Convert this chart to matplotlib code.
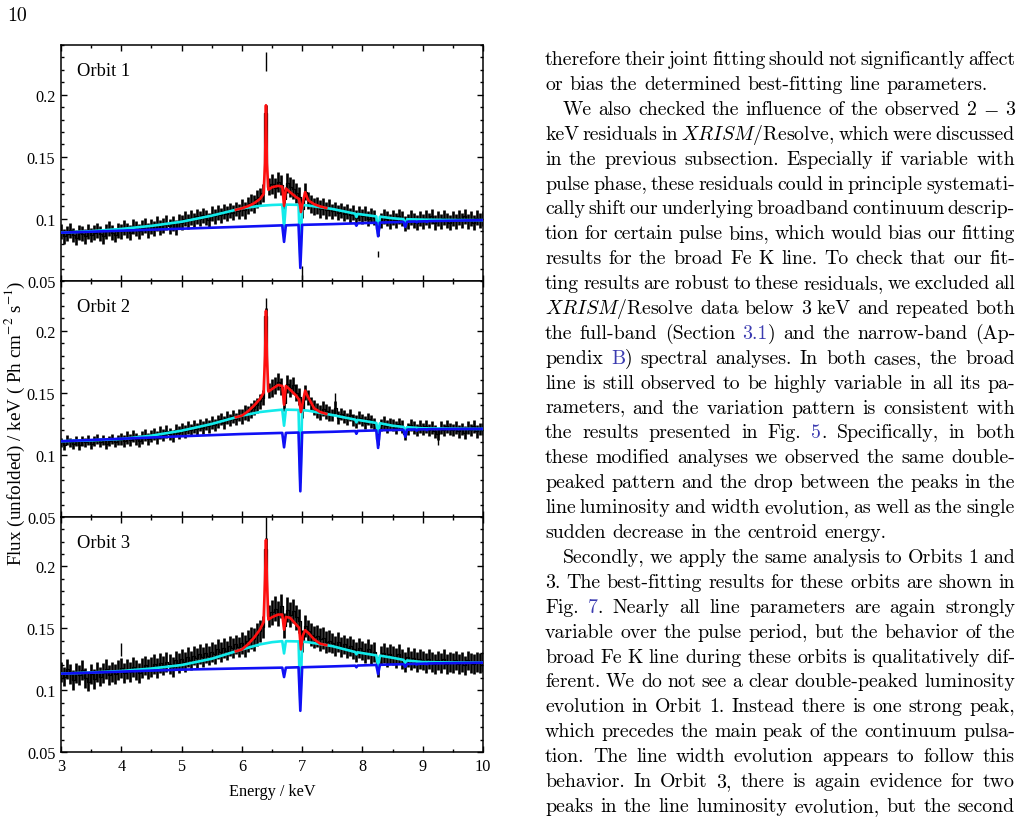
import re
import numpy as np
import matplotlib
matplotlib.use('Agg')
import matplotlib.pyplot as plt
from matplotlib.ticker import MultipleLocator, FixedLocator, FuncFormatter

# binned spectra, 0.05 keV bins from 3 to 10 keV
energy = np.round(np.arange(3.0, 10.001, 0.05), 2)

flux1 = [0.090, 0.086, 0.088, 0.091, 0.087, 0.085, 0.089, 0.088, 0.086, 0.090,
         0.087, 0.089, 0.091, 0.088, 0.086, 0.090, 0.092, 0.089, 0.087, 0.091,
         0.090, 0.093, 0.091, 0.089, 0.094, 0.092, 0.090, 0.093, 0.095, 0.091,
         0.094, 0.092, 0.096, 0.093, 0.095, 0.097, 0.094, 0.096, 0.093, 0.098,
         0.097, 0.100, 0.098, 0.101, 0.099, 0.102, 0.100, 0.103, 0.101, 0.099,
         0.104, 0.102, 0.105, 0.103, 0.106, 0.104, 0.107, 0.105, 0.108, 0.106,
         0.109, 0.107, 0.111, 0.113, 0.112, 0.116, 0.118, 0.121, 0.185, 0.126,
         0.128, 0.125, 0.130, 0.127, 0.116, 0.129, 0.126, 0.124, 0.121, 0.118,
         0.108, 0.122, 0.115, 0.112, 0.110, 0.111, 0.108, 0.110, 0.107, 0.109,
         0.106, 0.108, 0.105, 0.107, 0.104, 0.106, 0.103, 0.105, 0.101, 0.104,
         0.102, 0.104, 0.100, 0.103, 0.101, 0.092, 0.099, 0.102, 0.100, 0.098,
         0.101, 0.099, 0.102, 0.100, 0.096, 0.098, 0.101, 0.099, 0.097, 0.100,
         0.098, 0.101, 0.099, 0.102, 0.097, 0.100, 0.098, 0.101, 0.099, 0.097,
         0.100, 0.098, 0.101, 0.099, 0.102, 0.098, 0.100, 0.097, 0.101, 0.099,
         0.100]
flux2 = [0.110, 0.108, 0.112, 0.110, 0.109, 0.111, 0.108, 0.111, 0.110, 0.112,
         0.109, 0.111, 0.113, 0.110, 0.112, 0.109, 0.111, 0.113, 0.110, 0.112,
         0.113, 0.111, 0.114, 0.112, 0.115, 0.113, 0.111, 0.114, 0.116, 0.113,
         0.115, 0.117, 0.114, 0.118, 0.116, 0.119, 0.117, 0.115, 0.120, 0.118,
         0.121, 0.119, 0.122, 0.120, 0.123, 0.121, 0.124, 0.122, 0.125, 0.123,
         0.126, 0.124, 0.127, 0.129, 0.126, 0.130, 0.128, 0.131, 0.129, 0.132,
         0.131, 0.134, 0.133, 0.136, 0.138, 0.140, 0.143, 0.146, 0.212, 0.152,
         0.154, 0.156, 0.159, 0.155, 0.142, 0.157, 0.154, 0.156, 0.150, 0.147,
         0.136, 0.150, 0.146, 0.141, 0.138, 0.136, 0.134, 0.137, 0.135, 0.133,
         0.132, 0.138, 0.130, 0.133, 0.131, 0.129, 0.132, 0.128, 0.127, 0.130,
         0.128, 0.126, 0.129, 0.127, 0.125, 0.113, 0.124, 0.126, 0.123, 0.125,
         0.124, 0.122, 0.125, 0.123, 0.117, 0.121, 0.124, 0.122, 0.120, 0.123,
         0.121, 0.123, 0.120, 0.122, 0.119, 0.117, 0.122, 0.120, 0.123, 0.121,
         0.120, 0.122, 0.119, 0.121, 0.118, 0.122, 0.120, 0.123, 0.119, 0.121,
         0.121]
flux3 = [0.115, 0.111, 0.117, 0.113, 0.108, 0.114, 0.112, 0.116, 0.110, 0.107,
         0.113, 0.109, 0.115, 0.111, 0.114, 0.117, 0.112, 0.115, 0.113, 0.116,
         0.118, 0.114, 0.117, 0.115, 0.119, 0.116, 0.114, 0.118, 0.120, 0.117,
         0.119, 0.121, 0.118, 0.122, 0.120, 0.123, 0.121, 0.119, 0.124, 0.122,
         0.125, 0.123, 0.127, 0.124, 0.128, 0.126, 0.129, 0.127, 0.130, 0.128,
         0.131, 0.129, 0.133, 0.131, 0.134, 0.132, 0.136, 0.134, 0.137, 0.135,
         0.138, 0.136, 0.140, 0.142, 0.141, 0.145, 0.148, 0.151, 0.214, 0.160,
         0.163, 0.166, 0.162, 0.168, 0.152, 0.165, 0.161, 0.164, 0.159, 0.156,
         0.140, 0.152, 0.148, 0.145, 0.143, 0.144, 0.141, 0.142, 0.139, 0.140,
         0.138, 0.136, 0.139, 0.135, 0.137, 0.134, 0.136, 0.133, 0.131, 0.134,
         0.132, 0.130, 0.133, 0.129, 0.131, 0.119, 0.128, 0.130, 0.127, 0.129,
         0.128, 0.126, 0.129, 0.125, 0.123, 0.127, 0.124, 0.126, 0.123, 0.125,
         0.124, 0.122, 0.125, 0.123, 0.121, 0.124, 0.122, 0.125, 0.121, 0.123,
         0.122, 0.124, 0.121, 0.123, 0.120, 0.124, 0.122, 0.121, 0.123, 0.122,
         0.123]

# 1-sigma errors, one value per 0.5 keV block
err1 = [0.006, 0.006, 0.006, 0.006, 0.006, 0.006, 0.007, 0.008, 0.007, 0.006,
        0.006, 0.006, 0.006, 0.006, 0.006]
err2 = [0.004, 0.004, 0.005, 0.005, 0.005, 0.005, 0.006, 0.007, 0.006, 0.005,
        0.005, 0.005, 0.005, 0.005, 0.005]
err3 = [0.008, 0.008, 0.008, 0.008, 0.008, 0.008, 0.009, 0.010, 0.009, 0.008,
        0.008, 0.008, 0.008, 0.008, 0.008]

# stray bins: energy, low end, high end
odd1_e = [6.40, 6.99, 8.25]
odd1_lo = [0.219, 0.045, 0.069]
odd1_hi = [0.234, 0.062, 0.074]
odd2_e = [6.40, 7.55, 9.25]
odd2_lo = [0.200, 0.140, 0.108]
odd2_hi = [0.226, 0.150, 0.120]
odd3_e = [6.40, 4.00]
odd3_lo = [0.200, 0.128]
odd3_hi = [0.240, 0.138]

# model components
blue_e = [3.0, 4.0, 5.0, 6.0, 6.67, 6.70, 6.73, 6.94, 6.97, 7.00, 7.5, 7.88, 7.90,
          7.92, 8.23, 8.26, 8.29, 8.68, 8.71, 8.74, 8.88, 8.90, 8.92, 9.05, 9.07,
          9.09, 10.0]
blue1 = [0.0889, 0.0905, 0.0921, 0.0937, 0.0948, 0.0815, 0.0948, 0.0952, 0.0605,
         0.0952, 0.0958, 0.0964, 0.0945, 0.0965, 0.0969, 0.0860, 0.0970, 0.0976,
         0.0935, 0.0977, 0.0979, 0.0972, 0.0979, 0.0981, 0.0975, 0.0982, 0.0990]
blue2 = [0.1110, 0.1130, 0.1150, 0.1168, 0.1177, 0.1061, 0.1177, 0.1180, 0.0707,
         0.1180, 0.1186, 0.1192, 0.1170, 0.1193, 0.1197, 0.1056, 0.1198, 0.1202,
         0.1147, 0.1203, 0.1205, 0.1195, 0.1205, 0.1206, 0.1199, 0.1207, 0.1209]
blue3 = [0.1133, 0.1150, 0.1166, 0.1176, 0.1182, 0.1106, 0.1182, 0.1185, 0.0833,
         0.1185, 0.1192, 0.1198, 0.1185, 0.1199, 0.1204, 0.1130, 0.1205, 0.1210,
         0.1190, 0.1211, 0.1213, 0.1207, 0.1213, 0.1215, 0.1210, 0.1216, 0.1222]

cyan_e = [3.0, 3.5, 4.0, 4.5, 5.0, 5.5, 6.0, 6.3, 6.5, 6.67, 6.70, 6.73, 6.94, 6.97,
          7.00, 7.1, 7.5, 7.88, 7.90, 7.92, 8.23, 8.26, 8.29, 8.5, 8.68, 8.71, 8.74,
          9.0, 9.5, 10.0]
cyan1 = [0.0889, 0.0901, 0.0919, 0.0944, 0.0977, 0.1026, 0.1085, 0.1105, 0.1112,
         0.1115, 0.0930, 0.1115, 0.1113, 0.0680, 0.1112, 0.1108, 0.1080, 0.1042,
         0.1015, 0.1040, 0.1020, 0.0880, 0.1018, 0.1005, 0.0998, 0.0950, 0.0997,
         0.0994, 0.0991, 0.0990]
cyan2 = [0.1110, 0.1117, 0.1128, 0.1155, 0.1195, 0.1249, 0.1316, 0.1345, 0.1356,
         0.1364, 0.1235, 0.1364, 0.1362, 0.0780, 0.1360, 0.1356, 0.1321, 0.1284,
         0.1262, 0.1282, 0.1257, 0.1180, 0.1255, 0.1235, 0.1225, 0.1195, 0.1223,
         0.1214, 0.1211, 0.1209]
cyan3 = [0.1133, 0.1143, 0.1155, 0.1175, 0.1203, 0.1254, 0.1329, 0.1370, 0.1388,
         0.1396, 0.1297, 0.1396, 0.1394, 0.0900, 0.1392, 0.1388, 0.1356, 0.1308,
         0.1290, 0.1306, 0.1281, 0.1195, 0.1279, 0.1262, 0.1245, 0.1220, 0.1240,
         0.1227, 0.1224, 0.1222]

red_e = [5.9, 6.0, 6.1, 6.2, 6.3, 6.36, 6.385, 6.40, 6.415, 6.44, 6.5, 6.6, 6.67,
         6.70, 6.73, 6.8, 6.9, 6.95, 6.98, 7.01, 7.05, 7.1, 7.2, 7.3, 7.4]
red1 = [0.1073, 0.1085, 0.1102, 0.1125, 0.1160, 0.1200, 0.1450, 0.1915, 0.1450,
        0.1235, 0.1255, 0.1266, 0.1260, 0.1105, 0.1245, 0.1215, 0.1175, 0.1160,
        0.1055, 0.1130, 0.1215, 0.1150, 0.1118, 0.1100, 0.1088]
red2 = [0.1303, 0.1316, 0.1350, 0.1396, 0.1450, 0.1500, 0.1800, 0.2160, 0.1800,
        0.1510, 0.1530, 0.1563, 0.1555, 0.1404, 0.1555, 0.1525, 0.1477, 0.1445,
        0.1345, 0.1420, 0.1517, 0.1464, 0.1375, 0.1345, 0.1330]
red3 = [0.1314, 0.1329, 0.1370, 0.1423, 0.1490, 0.1550, 0.1900, 0.2215, 0.1900,
        0.1571, 0.1590, 0.1611, 0.1611, 0.1490, 0.1592, 0.1585, 0.1530, 0.1504,
        0.1329, 0.1440, 0.1485, 0.1464, 0.1410, 0.1375, 0.1364]

orbit_names = ['Orbit 1', 'Orbit 2', 'Orbit 3']
ytick_vals = [0.05, 0.1, 0.15, 0.2]

# body text of the right-hand column ([..] marks a link)
body = [
    (0, True, "therefore their joint fitting should not significantly affect"),
    (0, False, "or bias the determined best-fitting line parameters."),
    (1, True, "We also checked the influence of the observed 2 $-$ 3"),
    (0, True, "keV residuals in $\\mathit{XRISM}$/Resolve, which were discussed"),
    (0, True, "in the previous subsection. Especially if variable with"),
    (0, True, "pulse phase, these residuals could in principle systemati-"),
    (0, True, "cally shift our underlying broadband continuum descrip-"),
    (0, True, "tion for certain pulse bins, which would bias our fitting"),
    (0, True, "results for the broad Fe K line. To check that our fit-"),
    (0, True, "ting results are robust to these residuals, we excluded all"),
    (0, True, "$\\mathit{XRISM}$/Resolve data below 3 keV and repeated both"),
    (0, True, "the full-band (Section [3.1]) and the narrow-band (Ap-"),
    (0, True, "pendix [B]) spectral analyses. In both cases, the broad"),
    (0, True, "line is still observed to be highly variable in all its pa-"),
    (0, True, "rameters, and the variation pattern is consistent with"),
    (0, True, "the results presented in Fig. [5]. Specifically, in both"),
    (0, True, "these modified analyses we observed the same double-"),
    (0, True, "peaked pattern and the drop between the peaks in the"),
    (0, True, "line luminosity and width evolution, as well as the single"),
    (0, False, "sudden decrease in the centroid energy."),
    (1, True, "Secondly, we apply the same analysis to Orbits 1 and"),
    (0, True, "3. The best-fitting results for these orbits are shown in"),
    (0, True, "Fig. [7]. Nearly all line parameters are again strongly"),
    (0, True, "variable over the pulse period, but the behavior of the"),
    (0, True, "broad Fe K line during these orbits is qualitatively dif-"),
    (0, True, "ferent. We do not see a clear double-peaked luminosity"),
    (0, True, "evolution in Orbit 1. Instead there is one strong peak,"),
    (0, True, "which precedes the main peak of the continuum pulsa-"),
    (0, True, "tion. The line width evolution appears to follow this"),
    (0, True, "behavior. In Orbit 3, there is again evidence for two"),
    (0, True, "peaks in the line luminosity evolution, but the second"),
]

W, H = 1035, 820
fig = plt.figure(figsize=(W / 100, H / 100), dpi=100)
renderer = fig.canvas.get_renderer()

def fx(px):
    return px / W

def fy(py):
    return 1 - py / H

SERIF = 'Liberation Serif'
panels = [(flux1, err1, odd1_e, odd1_lo, odd1_hi, blue1, cyan1, red1),
          (flux2, err2, odd2_e, odd2_lo, odd2_hi, blue2, cyan2, red2),
          (flux3, err3, odd3_e, odd3_lo, odd3_hi, blue3, cyan3, red3)]
edges = [46, 282, 518, 753]
idx = np.arange(len(energy)) // 10

for i, (fl, er, oe, olo, ohi, bl, cy, rd) in enumerate(panels):
    top, bot = edges[i], edges[i + 1]
    ax = fig.add_axes([fx(61), fy(bot), fx(483) - fx(61), (bot - top) / H])
    ax.errorbar(energy, fl, yerr=np.array(er)[idx], fmt='none',
                ecolor='black', elinewidth=1.9, capsize=0, zorder=1)
    ax.step(energy, fl, where='mid', color='black', lw=0.9, zorder=1)
    ax.vlines(oe, olo, ohi, color='black', lw=1.0, zorder=1)
    ax.plot(cyan_e, cy, color='#12eaea', lw=1.9, zorder=3)
    ax.plot(blue_e, bl, color='#1010f5', lw=1.9, zorder=4)
    ax.plot(red_e, rd, color='#ff1010', lw=1.9, zorder=5)
    ax.set_xlim(3, 10)
    ax.set_ylim(0.05, 0.24)
    ax.xaxis.set_major_locator(MultipleLocator(1))
    ax.xaxis.set_minor_locator(MultipleLocator(0.5))
    ax.yaxis.set_major_locator(FixedLocator(ytick_vals))
    ax.yaxis.set_minor_locator(MultipleLocator(0.01))
    ax.yaxis.set_major_formatter(FuncFormatter(lambda v, p: f'{v:g}'))
    ax.tick_params(which='both', direction='in', top=True, right=True, width=1,
                   labelsize=11.7, pad=4)
    ax.tick_params(which='major', length=4.5)
    ax.tick_params(which='minor', length=2.3)
    for lab in ax.get_xticklabels() + ax.get_yticklabels():
        lab.set_family(SERIF)
    for s in ax.spines.values():
        s.set_linewidth(1.1)
    if i < 2:
        ax.tick_params(labelbottom=False)
    else:
        ax.set_xlabel('Energy / keV', family=SERIF, fontsize=11.7, labelpad=7)
    ax.text(0.037, 0.89, orbit_names[i], transform=ax.transAxes, family=SERIF,
            fontsize=13.3, va='center', ha='left')

fig.text(fx(15), fy(423), 'Flux (unfolded) / keV ( Ph cm$^{-2}$ s$^{-1}$)',
         rotation=90, ha='center', va='center', family=SERIF, fontsize=13.8,
         math_fontfamily='stix')

# page number and the justified text column
BODY_FS = 14.3
LINK = '#3b3bb0'
fig.text(fx(7), fy(21), '10', family='cmr10', fontsize=BODY_FS, va='baseline')

X0, X1, INDENT = 545, 1015, 18
SPACE = 6.6

def make_word(token):
    parts = [p for p in re.split(r'(\[[^\]]*\])', token) if p]
    segs = []
    for p in parts:
        col = 'black'
        if p.startswith('['):
            p, col = p[1:-1], LINK
        t = fig.text(0, 0, p, family='cmr10', math_fontfamily='cm',
                     fontsize=BODY_FS, color=col, va='baseline', ha='left')
        w = t.get_window_extent(renderer).width
        segs.append((t, w))
    return segs

for n, (ind, just, line) in enumerate(body):
    ybase = 65 + n * 24.9
    x_start = X0 + INDENT * ind
    words = [make_word(tok) for tok in line.split()]
    widths = [sum(w for _, w in segs) for segs in words]
    if just and len(words) > 1:
        gap = (X1 - x_start - sum(widths)) / (len(words) - 1)
    else:
        gap = SPACE
    x = x_start
    for segs, wsum in zip(words, widths):
        xx = x
        for t, w in segs:
            t.set_position((fx(xx), fy(ybase)))
            xx += w
        x += wsum + gap

fig.savefig('out.png', dpi=100)
